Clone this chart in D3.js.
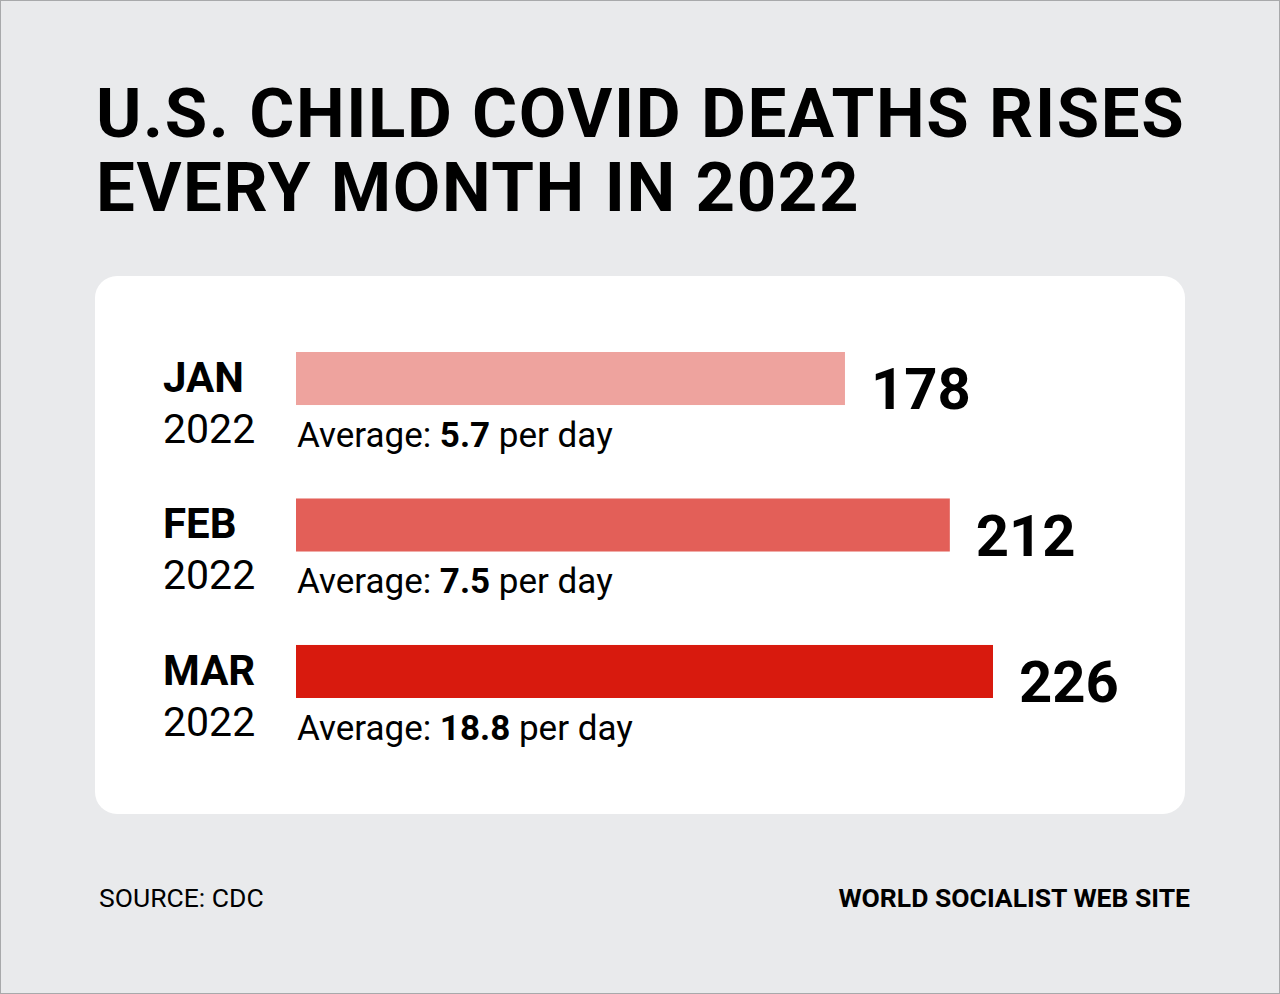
<!DOCTYPE html>
<html>
<head>
<meta charset="utf-8">
<script src="https://cdn.jsdelivr.net/npm/d3@7"></script>
<style>
  html, body { margin: 0; padding: 0; background: #e9eaec; }
  svg { display: block; font-family: Roboto, "Noto Sans", sans-serif; }
</style>
</head>
<body>
<svg id="chart" width="1280" height="994"></svg>
<script>
// Data
var Months = ["JAN", "FEB", "MAR"];
var Years = ["2022", "2022", "2022"];
var Deaths = [178, 212, 226];
var Averages = ["5.7", "7.5", "18.8"];
var Colors = ["#eea39e", "#e35f58", "#d81a0e"];
var TitleLines = ["U.S. CHILD COVID DEATHS RISES", "EVERY MONTH IN 2022"];

var SVG = d3.select("#chart");
// Background and frame
SVG.append("rect").attr("x", 0.5).attr("y", 0.5).attr("width", 1279).attr("height", 993)
    .attr("fill", "#e9eaec").attr("stroke", "#a8a9ab").attr("stroke-width", 1);
// Title
SVG.append("g").selectAll("text").data(TitleLines).enter().append("text")
    .attr("x", 96)
    .attr("y", (Line, Index) => 137 + Index * 74)
    .attr("font-size", 69).attr("font-weight", 700).attr("letter-spacing", 1.6).attr("fill", "#000")
    .text(Line => Line);
// White card
SVG.append("rect").attr("x", 95).attr("y", 276).attr("width", 1090).attr("height", 538)
    .attr("rx", 22).attr("fill", "#fff");
// Scales
var X = d3.scaleLinear().domain([0, 226]).range([296, 993]);
var Y = d3.scaleBand().domain(Months).range([352, 698]).paddingInner(0.638).paddingOuter(0);
var Rows = SVG.append("g").selectAll("g").data(Months).enter().append("g")
    .attr("transform", Month => `translate(0,${Y(Month)})`);
// Bars
Rows.append("rect")
    .attr("x", X(0))
    .attr("y", 0)
    .attr("width", (Month, Index) => X(Deaths[Index]) - X(0))
    .attr("height", Y.bandwidth())
    .attr("fill", (Month, Index) => Colors[Index]);
// Month labels
Rows.append("text").attr("x", 163).attr("y", 40)
    .attr("font-size", 42).attr("font-weight", 700).text(Month => Month);
Rows.append("text").attr("x", 163).attr("y", 91)
    .attr("font-size", 41).attr("font-weight", 400).text((Month, Index) => Years[Index]);
// Values
Rows.append("text")
    .attr("x", (Month, Index) => X(Deaths[Index]) + 26)
    .attr("y", Y.bandwidth() + 4)
    .attr("font-size", 58).attr("font-weight", 700)
    .text((Month, Index) => Deaths[Index]);
// Average per day
var Average = Rows.append("text").attr("x", X(0) + 1).attr("y", 95).attr("font-size", 35);
Average.append("tspan").text("Average: ");
Average.append("tspan").attr("font-weight", 700).text((Month, Index) => Averages[Index]);
Average.append("tspan").text(" per day");
// Footer
SVG.append("text").attr("x", 99).attr("y", 907).attr("font-size", 26.5).text("SOURCE: CDC");
SVG.append("text").attr("x", 1190).attr("y", 907).attr("font-size", 26.5).attr("font-weight", 700)
    .attr("text-anchor", "end").text("WORLD SOCIALIST WEB SITE");
</script>
</body>
</html>
